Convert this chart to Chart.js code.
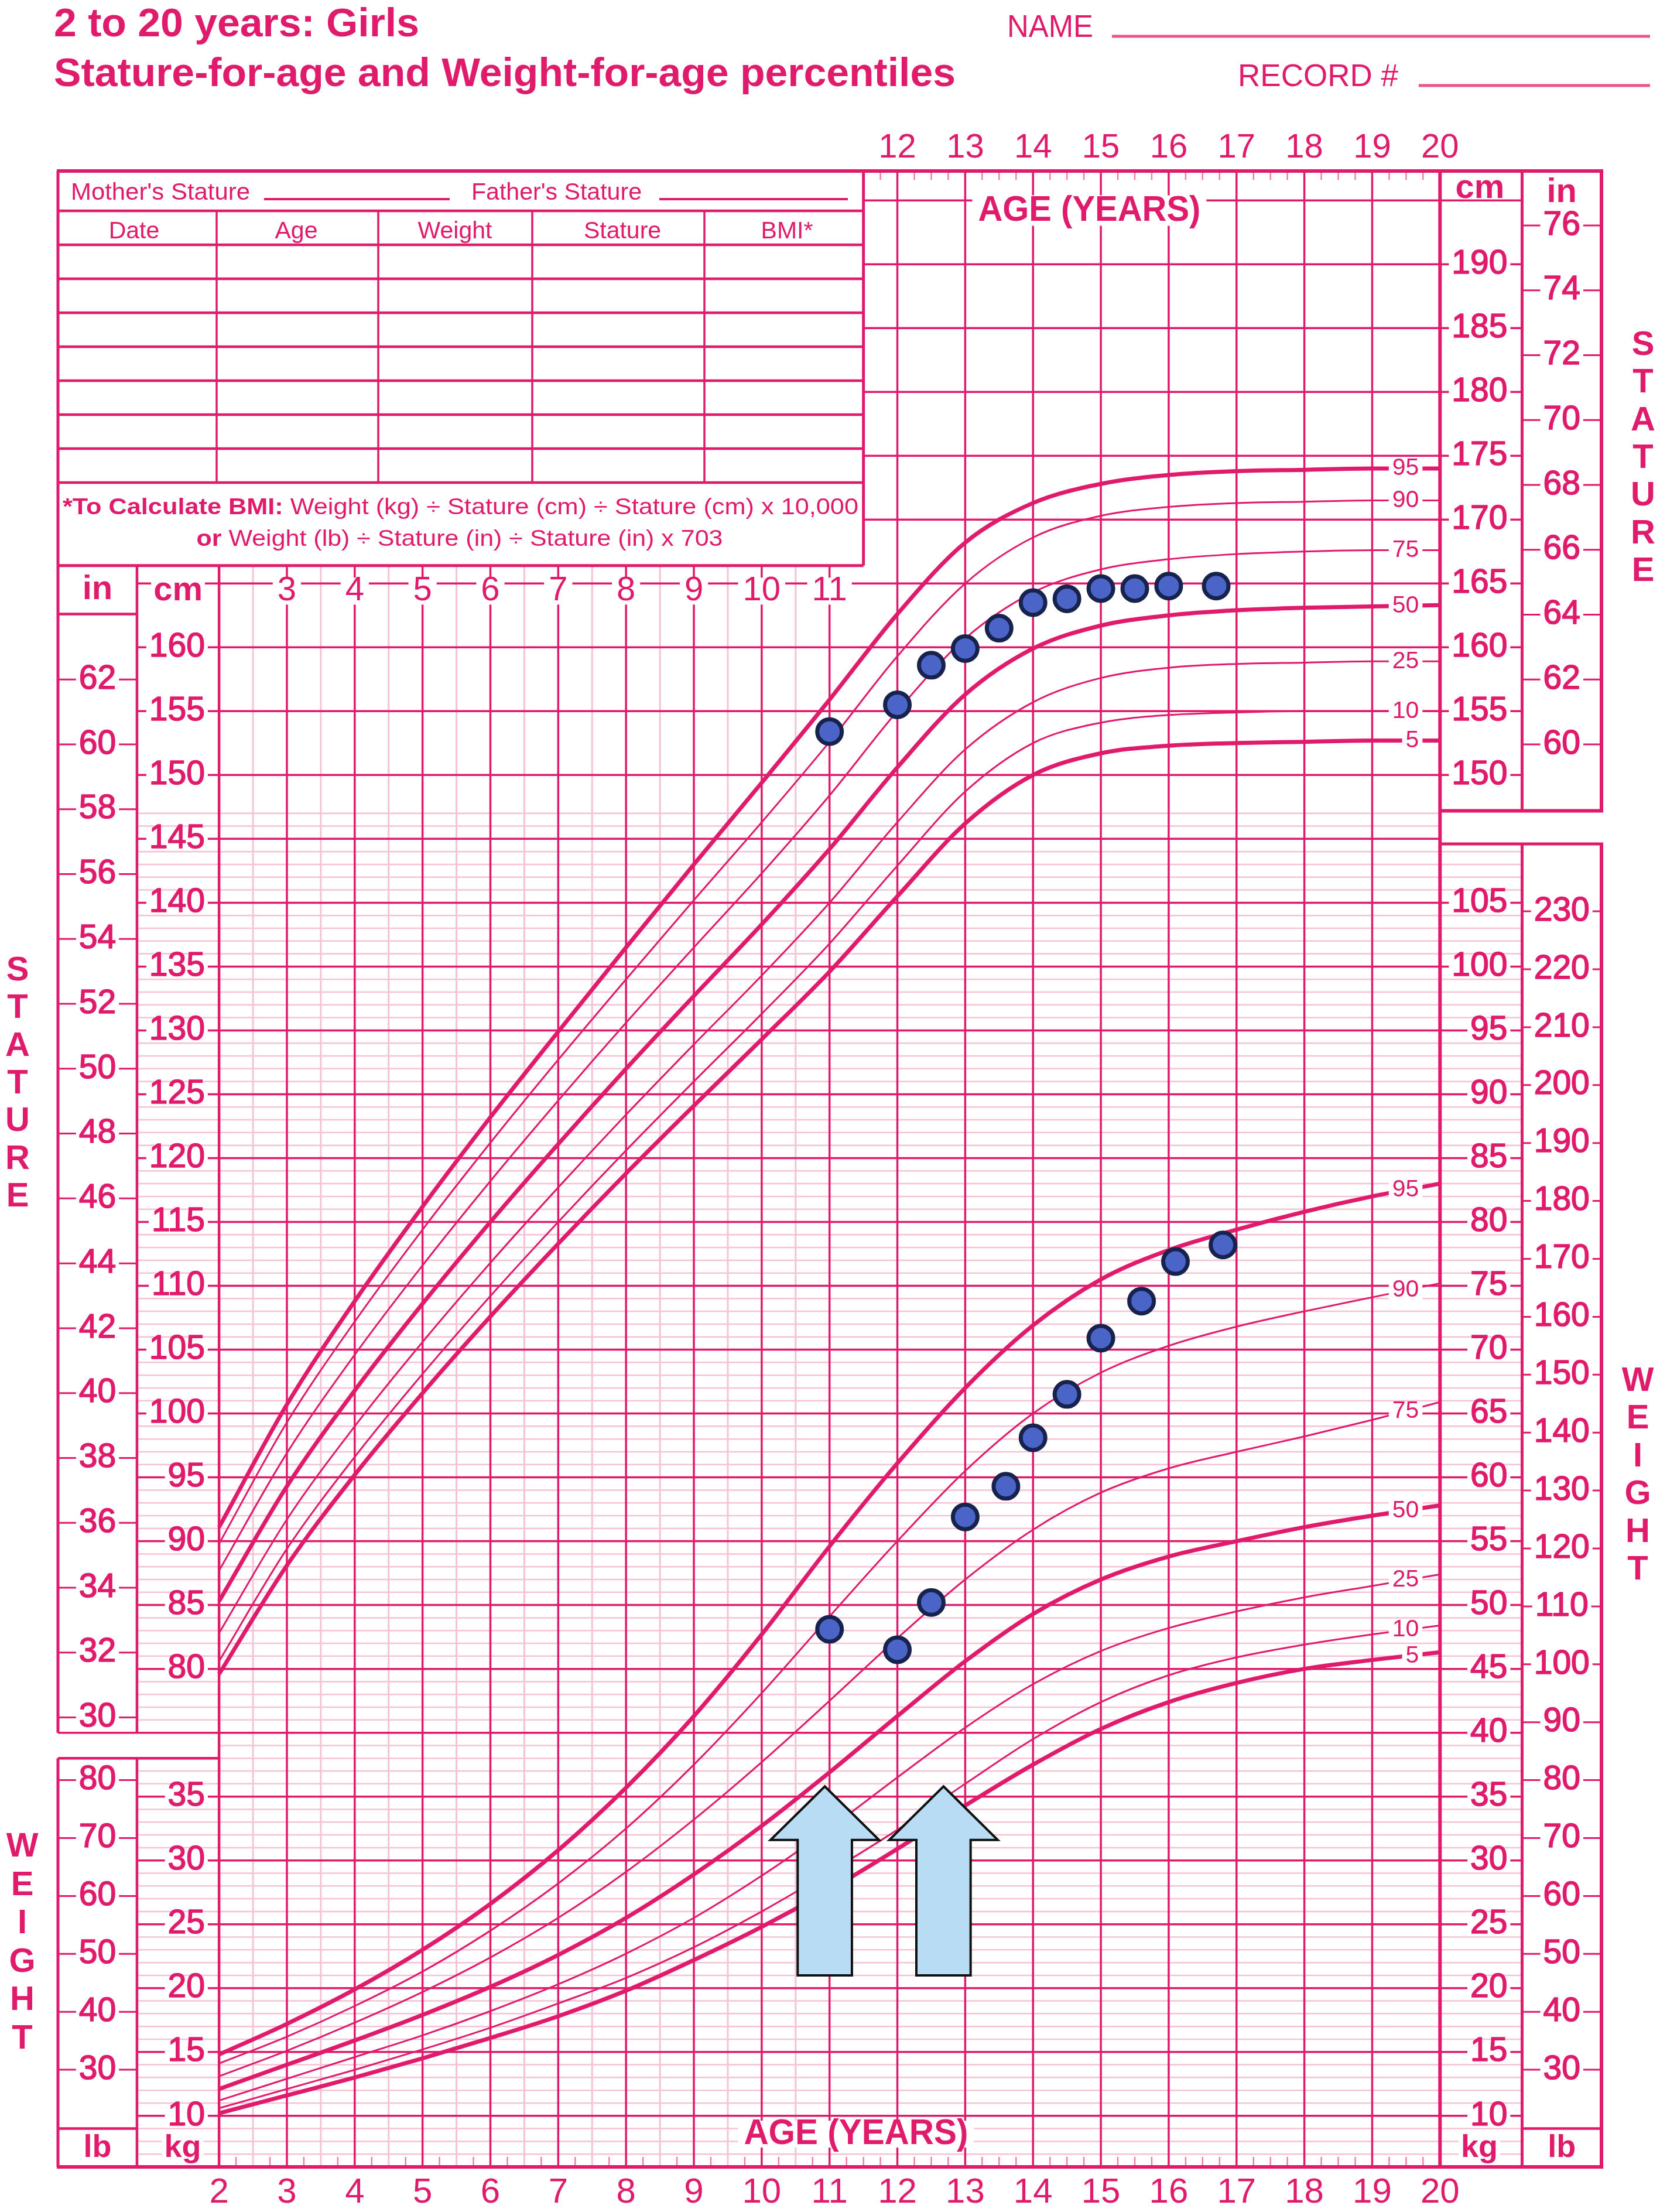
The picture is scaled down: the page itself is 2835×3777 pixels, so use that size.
<!DOCTYPE html>
<html>
<head>
<meta charset="utf-8">
<title>2 to 20 years: Girls - Stature-for-age and Weight-for-age percentiles</title>
<script src="https://cdn.jsdelivr.net/npm/chart.js@4.4.1/dist/chart.umd.min.js"></script>
<style>
    html, body { margin: 0; padding: 0; background: #ffffff; }
    canvas { display: block; }
</style>
</head>
<body>
<canvas id="growth-chart" width="2835" height="3777" style="width:2835px;height:3777px"></canvas>
<script>
// ages of the percentile curves (years)
const ages = [2, 3, 4, 5, 6, 7, 8, 9, 10, 11, 12, 13, 14, 15, 16, 17, 18, 19, 20];
const percentiles = [5, 10, 25, 50, 75, 90, 95];

// stature-for-age percentiles (cm)
const stature5 = [79.6, 88.1, 95.2, 101.6, 107.6, 113.3, 118.8, 124.1, 129.3, 134.6, 140.5, 146.2, 150.0, 151.7, 152.3, 152.5, 152.6, 152.7, 152.7];
const stature10 = [80.6, 89.4, 96.6, 103.1, 109.2, 115.0, 120.6, 126.0, 131.3, 136.8, 142.9, 148.7, 152.5, 154.1, 154.7, 154.9, 155.0, 155.0, 155.0];
const stature25 = [82.8, 91.7, 99.0, 105.6, 111.8, 117.7, 123.4, 128.9, 134.3, 140.0, 146.3, 152.0, 155.7, 157.6, 158.4, 158.7, 158.8, 158.9, 158.9];
const stature50 = [85.3, 94.3, 101.8, 108.6, 115.0, 121.1, 127.0, 132.7, 138.3, 144.2, 150.6, 156.3, 159.9, 161.7, 162.5, 162.9, 163.1, 163.2, 163.3];
const stature75 = [87.7, 96.9, 104.6, 111.6, 118.2, 124.5, 130.6, 136.5, 142.3, 148.4, 155.0, 160.7, 164.3, 166.1, 166.9, 167.3, 167.5, 167.6, 167.6];
const stature90 = [89.8, 99.3, 107.2, 114.4, 121.2, 127.7, 134.0, 140.2, 146.3, 152.6, 159.3, 165.0, 168.6, 170.3, 171.0, 171.3, 171.4, 171.5, 171.5];
const stature95 = [91.1, 100.7, 108.8, 116.2, 123.2, 129.9, 136.5, 143.0, 149.4, 155.9, 162.6, 168.2, 171.3, 172.8, 173.5, 173.8, 173.9, 174.0, 174.0];

// weight-for-age percentiles (kg)
const weight5 = [10.2, 11.6, 13.0, 14.5, 16.1, 17.8, 19.8, 22.2, 24.8, 27.7, 30.9, 34.3, 37.5, 40.3, 42.4, 43.9, 45.0, 45.7, 46.3];
const weight10 = [10.6, 12.1, 13.6, 15.2, 16.9, 18.8, 20.8, 23.2, 26.0, 29.1, 32.4, 36.0, 39.5, 42.4, 44.5, 45.9, 46.9, 47.7, 48.4];
const weight25 = [11.2, 12.9, 14.6, 16.3, 18.2, 20.3, 22.7, 25.5, 28.8, 32.5, 36.5, 40.4, 43.8, 46.4, 48.2, 49.5, 50.6, 51.5, 52.4];
const weight50 = [12.1, 14.0, 15.9, 17.9, 20.1, 22.6, 25.5, 28.9, 32.7, 36.9, 41.3, 45.6, 49.3, 52.0, 53.8, 55.0, 56.1, 57.0, 57.8];
const weight75 = [13.1, 15.1, 17.3, 19.7, 22.4, 25.5, 29.1, 33.2, 37.7, 42.5, 47.4, 52.0, 55.9, 58.8, 60.7, 62.0, 63.2, 64.5, 65.9];
const weight90 = [14.1, 16.2, 18.6, 21.3, 24.5, 28.2, 32.5, 37.5, 43.1, 49.1, 55.0, 60.5, 65.0, 68.2, 70.3, 71.8, 73.0, 74.1, 75.2];
const weight95 = [14.8, 17.2, 19.9, 23.0, 26.6, 30.8, 35.7, 41.3, 47.7, 54.6, 61.1, 67.0, 71.9, 75.5, 77.8, 79.4, 80.8, 82.0, 83.0];

// plotted measurements
const statureVisitAges = [11, 12, 12.5, 13, 13.5, 14, 14.5, 15, 15.5, 16, 16.7];
const statureVisitCm = [153.4, 155.5, 158.6, 159.9, 161.5, 163.5, 163.8, 164.6, 164.6, 164.8, 164.8];
const weightVisitAges = [11, 12, 12.5, 13, 13.6, 14, 14.5, 15, 15.6, 16.1, 16.8];
const weightVisitKg = [48.1, 46.5, 50.2, 56.9, 59.3, 63.1, 66.5, 70.9, 73.8, 76.9, 78.2];

// the two blue arrows (age of the tip, kg of tip / neck / foot)
const arrowAges = [10.93, 12.68];
const arrowTipKg = 35.8;
const arrowNeckKg = 31.6;
const arrowFootKg = 21.0;

// axis labels
const cmLabelsLeft = [80, 85, 90, 95, 100, 105, 110, 115, 120, 125, 130, 135, 140, 145, 150, 155, 160];
const inLabelsLeft = [30, 32, 34, 36, 38, 40, 42, 44, 46, 48, 50, 52, 54, 56, 58, 60, 62];
const kgLabelsLeft = [10, 15, 20, 25, 30, 35];
const lbLabelsLeft = [30, 40, 50, 60, 70, 80];
const cmLabelsRight = [150, 155, 160, 165, 170, 175, 180, 185, 190];
const inLabelsRight = [60, 62, 64, 66, 68, 70, 72, 74, 76];
const kgLabelsRight = [10, 15, 20, 25, 30, 35, 40, 45, 50, 55, 60, 65, 70, 75, 80, 85, 90, 95, 100, 105];
const lbLabelsRight = [30, 40, 50, 60, 70, 80, 90, 100, 110, 120, 130, 140, 150, 160, 170, 180, 190, 200, 210, 220, 230];
const topAgeLabels = [12, 13, 14, 15, 16, 17, 18, 19, 20];
const rowAgeLabels = [3, 4, 5, 6, 7, 8, 9, 10, 11];
const bottomAgeLabels = [2, 3, 4, 5, 6, 7, 8, 9, 10, 11, 12, 13, 14, 15, 16, 17, 18, 19, 20];

const PINK = "#e01b6c";
const MINOR = "#f6c2d5";
const FONT = '"Liberation Sans", Arial, Helvetica, sans-serif';

function seg(ctx, x1, y1, x2, y2, width, color) {
    ctx.beginPath();
    ctx.moveTo(x1, y1);
    ctx.lineTo(x2, y2);
    ctx.lineWidth = width;
    ctx.strokeStyle = color || PINK;
    ctx.stroke();
}

// text with optional white box behind it; "heavy" thickens the glyphs a little
function text(ctx, str, x, y, o) {
    str = String(str);
    ctx.font = (o.bold ? "bold " : "") + o.size + "px " + FONT;
    ctx.textAlign = o.align || "center";
    ctx.textBaseline = o.base || "middle";
    let w = ctx.measureText(str).width;
    if (o.maxW && w > o.maxW) w = o.maxW;
    if (o.bg) {
        let left = x - w / 2;
        if (ctx.textAlign === "right") left = x - w;
        if (ctx.textAlign === "left") left = x;
        const h = o.bgH || o.size * 0.72;
        const pad = o.pad === undefined ? 6 : o.pad;
        ctx.fillStyle = "#ffffff";
        ctx.fillRect(left - pad, y - h / 2, w + 2 * pad, h);
    }
    ctx.fillStyle = o.color || PINK;
    if (o.maxW) ctx.fillText(str, x, y, o.maxW);
    else ctx.fillText(str, x, y);
    if (o.heavy) {
        ctx.lineWidth = o.heavy;
        ctx.lineJoin = "round";
        ctx.strokeStyle = o.color || PINK;
        if (o.maxW) ctx.strokeText(str, x, y, o.maxW);
        else ctx.strokeText(str, x, y);
    }
}

// mixed bold / regular line fitted to a given width
function runs(ctx, parts, x, y, size, width, align) {
    let total = 0;
    parts.forEach((p) => {
        ctx.font = (p.bold ? "bold " : "") + size + "px " + FONT;
        p.w = ctx.measureText(p.t).width;
        total += p.w;
    });
    const k = width / total;
    const start = align === "center" ? x - width / 2 : x;
    ctx.save();
    ctx.translate(start, y);
    ctx.scale(k, 1);
    ctx.textAlign = "left";
    ctx.textBaseline = "alphabetic";
    ctx.fillStyle = PINK;
    let cx = 0;
    parts.forEach((p) => {
        ctx.font = (p.bold ? "bold " : "") + size + "px " + FONT;
        ctx.fillText(p.t, cx, 0);
        cx += p.w;
    });
    ctx.restore();
}

const gridPlugin = {
    id: "growthGrid",
    beforeDraw(chart) {
        const ctx = chart.ctx;
        ctx.save();
        ctx.fillStyle = "#ffffff";
        ctx.fillRect(0, 0, chart.width, chart.height);
        ctx.restore();
    },
    beforeDatasetsDraw(chart) {
        const { ctx, scales } = chart;
        const X = (a) => scales.x.getPixelForValue(a);
        const Y = (v) => scales.yCm.getPixelForValue(v);
        const YK = (v) => scales.yKg.getPixelForValue(v);
        const YI = (v) => scales.yIn.getPixelForValue(v);
        const YL = (v) => scales.yLb.getPixelForValue(v);

        const xL = X(-0.375), xLc = X(0.79), x2 = X(2), x20 = X(20);
        const xRc = X(21.21), xR = X(22.38), xT = X(11.5);
        const yTop = Y(197.3), yBot = Y(41), yTab = Y(166.4);

        ctx.save();
        ctx.lineCap = "butt";

        // light 1 cm / 1 kg lines
        for (let v = 42; v <= 147; v++) {
            if (v % 5 === 0) continue;
            const a = v > 73 && v < 75 ? x2 : xLc;
            const b = v <= 144 ? xRc : x20;
            seg(ctx, a, Y(v), b, Y(v), 2.5, MINOR);
        }
        // light half-year lines
        for (let a = 2.5; a < 11; a += 1) seg(ctx, X(a), yTab, X(a), yBot, 3, MINOR);
        // 3-month ticks on the top and bottom edges
        for (let q = 2.25; q < 20; q += 0.25) {
            if (q % 1 === 0) continue;
            if (!(q < 11 && q % 1 === 0.5)) seg(ctx, X(q), yBot, X(q), yBot - 17, 2.5, "#ee80a8");
            if (q > 11.5) seg(ctx, X(q), yTop, X(q), yTop + 15, 2.5, "#ee80a8");
        }
        // 5 cm / 5 kg lines
        for (let v = 45; v <= 195; v += 5) {
            let a = xLc, b = xRc;
            if (v > 166.4) a = xT;
            if (v === 75) a = xL;
            if (v === 145) b = x20;
            seg(ctx, a, Y(v), b, Y(v), 3.5);
        }
        // year lines
        for (let a = 2; a <= 20; a++) {
            seg(ctx, X(a), a >= 12 ? yTop : yTab, X(a), yBot, a === 20 ? 6 : a === 2 ? 4.5 : 3.5);
        }

        // frame and side boxes
        seg(ctx, xL - 2, yTop, xR + 3, yTop, 6);
        seg(ctx, xL - 2, yBot, xR + 3, yBot, 6);
        seg(ctx, xL, yTop, xL, Y(75), 5);
        seg(ctx, xL, Y(73), xL, yBot, 5);
        seg(ctx, xLc, yTab, xLc, Y(75), 4.5);
        seg(ctx, xLc, Y(73), xLc, yBot, 4.5);
        seg(ctx, xL, yTab, xT, yTab, 5);
        seg(ctx, xT, yTop, xT, yTab, 5);
        seg(ctx, xL, Y(162.6), xLc, Y(162.6), 4.5);
        seg(ctx, xL, Y(73), x2, Y(73), 4.5);
        seg(ctx, xL, YK(9), xLc, YK(9), 4.5);
        seg(ctx, xRc, YK(9), xR, YK(9), 4.5);
        seg(ctx, xRc, yTop, xRc, Y(147.2), 5);
        seg(ctx, xRc, Y(144.6), xRc, yBot, 5);
        seg(ctx, xR, yTop, xR, Y(147.2), 6);
        seg(ctx, xR, Y(144.6), xR, yBot, 6);
        seg(ctx, x20, Y(147.2), xR + 3, Y(147.2), 6);
        seg(ctx, x20, Y(144.6), xR + 3, Y(144.6), 5);

        // record table
        const rows = [360, 418, 476, 534, 592, 650, 708, 766, 824];
        rows.forEach((r) => seg(ctx, xL, r, xT, r, 4.5));
        [370, 646, 909, 1203].forEach((c) => seg(ctx, c, rows[0], c, rows[rows.length - 1], 3.5));
        runs(ctx, [{ t: "Mother's Stature" }], 121, 341, 40, 306, "left");
        seg(ctx, 451, 340, 768, 340, 4);
        runs(ctx, [{ t: "Father's Stature" }], 805, 341, 40, 291, "left");
        seg(ctx, 1126, 340, 1448, 340, 4);
        [["Date", 229], ["Age", 506], ["Weight", 777], ["Stature", 1063], ["BMI*", 1344]].forEach(([t, cx]) => {
            text(ctx, t, cx, 407, { size: 41, base: "alphabetic" });
        });
        runs(ctx, [{ t: "*To Calculate BMI: ", bold: true }, { t: "Weight (kg) \u00f7 Stature (cm) \u00f7 Stature (cm) x 10,000" }], 107, 878, 39, 1359, "left");
        runs(ctx, [{ t: "or ", bold: true }, { t: "Weight (lb) \u00f7 Stature (in) \u00f7 Stature (in) x 703" }], 785, 932, 39, 899, "center");

        // inch and pound ticks
        inLabelsLeft.forEach((v) => seg(ctx, xL, YI(v), xLc, YI(v), 3));
        inLabelsRight.forEach((v) => seg(ctx, xRc, YI(v), xR, YI(v), 3));
        lbLabelsLeft.forEach((v) => seg(ctx, xL, YL(v), xLc, YL(v), 3));
        lbLabelsRight.forEach((v) => seg(ctx, xRc, YL(v), xR, YL(v), 3));

        // scale numbers
        const num = { size: 57, bg: true, bgH: 40, pad: 5, heavy: 1.6 };
        cmLabelsLeft.forEach((v) => text(ctx, v, xLc + 116, Y(v), { ...num, align: "right" }));
        cmLabelsRight.forEach((v) => text(ctx, v, xRc - 25, Y(v), { ...num, align: "right" }));
        kgLabelsLeft.forEach((v) => text(ctx, v, xLc + 116, YK(v), { ...num, align: "right" }));
        kgLabelsRight.forEach((v) => text(ctx, v, xRc - 25, YK(v), { ...num, align: "right" }));
        inLabelsLeft.forEach((v) => text(ctx, v, (xL + xLc) / 2, YI(v), num));
        inLabelsRight.forEach((v) => text(ctx, v, (xRc + xR) / 2, YI(v), num));
        lbLabelsLeft.forEach((v) => text(ctx, v, (xL + xLc) / 2, YL(v), num));
        lbLabelsRight.forEach((v) => text(ctx, v, (xRc + xR) / 2, YL(v), num));

        // age labels
        rowAgeLabels.forEach((a) => text(ctx, a, X(a), Y(164.4), { size: 58, bg: true, bgH: 46, pad: 8 }));
        topAgeLabels.forEach((a) => text(ctx, a, X(a), 253, { size: 58 }));
        bottomAgeLabels.forEach((a) => text(ctx, a, X(a), 3744, { size: 60 }));
        text(ctx, "AGE (YEARS)", X(14.83), Y(194.2), { size: 62, bold: true, maxW: 380, bg: true, bgH: 52, pad: 10 });
        text(ctx, "AGE (YEARS)", X(11.39), 3644, { size: 62, bold: true, maxW: 383, bg: true, bgH: 46, pad: 10 });

        // unit headers
        text(ctx, "in", (xL + xLc) / 2, 1007, { size: 58, bold: true });
        text(ctx, "cm", (xLc + x2) / 2, Y(164.4), { size: 58, bold: true, bg: true, bgH: 46, pad: 4 });
        text(ctx, "cm", xRc - 72, 338, { size: 58, bold: true, base: "alphabetic" });
        text(ctx, "in", (xRc + xR) / 2, 345, { size: 58, bold: true, base: "alphabetic" });
        text(ctx, "lb", (xL + xLc) / 2, 3683, { size: 54, bold: true, base: "alphabetic" });
        text(ctx, "kg", (xLc + x2) / 2 + 8, 3668, { size: 54, bold: true, bg: true, bgH: 46, pad: 4 });
        text(ctx, "kg", xRc - 73, 3668, { size: 54, bold: true, bg: true, bgH: 46, pad: 4 });
        text(ctx, "lb", (xRc + xR) / 2, 3683, { size: 54, bold: true, base: "alphabetic" });

        // vertical side titles
        "STATURE".split("").forEach((ch, i) => {
            text(ctx, ch, 30, 1658 + i * 64.3, { size: 58, bold: true });
            text(ctx, ch, 2806, 590 + i * 64.3, { size: 58, bold: true });
        });
        "WEIGHT".split("").forEach((ch, i) => {
            text(ctx, ch, 38, 3154 + i * 65.5, { size: 58, bold: true });
            text(ctx, ch, 2797, 2359 + i * 64.4, { size: 58, bold: true });
        });

        // heading
        runs(ctx, [{ t: "2 to 20 years: Girls", bold: true }], 92, 62, 69, 624, "left");
        runs(ctx, [{ t: "Stature-for-age and Weight-for-age percentiles", bold: true }], 92, 147, 69, 1540, "left");
        text(ctx, "NAME", 1720, 63, { size: 53, align: "left", base: "alphabetic", maxW: 147 });
        seg(ctx, 1899, 62, 2818, 62, 5, "#e8558c");
        text(ctx, "RECORD #", 2114, 147, { size: 53, align: "left", base: "alphabetic", maxW: 274 });
        seg(ctx, 2423, 146, 2818, 146, 5, "#e8558c");

        ctx.restore();
    },
    afterDatasetsDraw(chart) {
        const { ctx, scales } = chart;
        const X = (a) => scales.x.getPixelForValue(a);
        const Y = (v) => scales.yCm.getPixelForValue(v);
        const YK = (v) => scales.yKg.getPixelForValue(v);
        ctx.save();

        // percentile names at the right end of each curve
        const n = ages.length;
        const lbl = { size: 41, align: "right", bg: true, bgH: 32, pad: 6 };
        [stature5, stature10, stature25, stature50, stature75, stature90, stature95].forEach((arr, i) => {
            text(ctx, percentiles[i], X(19.69), Y((arr[n - 2] + arr[n - 1]) / 2), lbl);
        });
        [weight5, weight10, weight25, weight50, weight75, weight90, weight95].forEach((arr, i) => {
            text(ctx, percentiles[i], X(19.69), YK((arr[n - 2] + arr[n - 1]) / 2), lbl);
        });

        // arrows
        arrowAges.forEach((a) => {
            const cx = X(a);
            const hw = X(a + 0.8) - cx;
            const sw = X(a + 0.4) - cx;
            const yt = YK(arrowTipKg), yn = YK(arrowNeckKg), yf = YK(arrowFootKg);
            ctx.beginPath();
            ctx.moveTo(cx, yt);
            ctx.lineTo(cx + hw, yn);
            ctx.lineTo(cx + sw, yn);
            ctx.lineTo(cx + sw, yf);
            ctx.lineTo(cx - sw, yf);
            ctx.lineTo(cx - sw, yn);
            ctx.lineTo(cx - hw, yn);
            ctx.closePath();
            ctx.fillStyle = "#b9dcf5";
            ctx.fill();
            ctx.lineWidth = 4;
            ctx.lineJoin = "miter";
            ctx.strokeStyle = "#111111";
            ctx.stroke();
        });
        ctx.restore();
    },
};

function curve(name, values, axis, pct) {
    const heavy = pct === 5 || pct === 50 || pct === 95;
    return {
        label: name,
        type: "line",
        yAxisID: axis,
        data: ages.map((a, i) => ({ x: a, y: values[i] })),
        borderColor: PINK,
        borderWidth: heavy ? 7 : 3,
        pointRadius: 0,
        fill: false,
        cubicInterpolationMode: "monotone",
        order: 1,
    };
}

function visits(name, xs, ys, axis) {
    return {
        label: name,
        type: "line",
        showLine: false,
        yAxisID: axis,
        data: xs.map((a, i) => ({ x: a, y: ys[i] })),
        pointRadius: 21,
        pointBorderWidth: 7,
        pointBackgroundColor: "#4a64c8",
        pointBorderColor: "#17224d",
        order: 0,
    };
}

const statureCurves = [stature5, stature10, stature25, stature50, stature75, stature90, stature95];
const weightCurves = [weight5, weight10, weight25, weight50, weight75, weight90, weight95];

const datasets = [
    visits("Stature", statureVisitAges, statureVisitCm, "yCm"),
    visits("Weight", weightVisitAges, weightVisitKg, "yKg"),
];
statureCurves.forEach((arr, i) => datasets.push(curve("Stature P" + percentiles[i], arr, "yCm", percentiles[i])));
weightCurves.forEach((arr, i) => datasets.push(curve("Weight P" + percentiles[i], arr, "yKg", percentiles[i])));

const ctx = document.getElementById("growth-chart").getContext("2d");
window.growthChart = new Chart(ctx, {
    type: "line",
    data: { datasets: datasets },
    options: {
        responsive: false,
        animation: false,
        devicePixelRatio: 1,
        events: [],
        layout: { padding: { left: 99, right: 100, top: 292, bottom: 77 } },
        plugins: {
            legend: { display: false },
            tooltip: { enabled: false },
            title: { display: false },
        },
        scales: {
            x: { type: "linear", min: -0.375, max: 22.38, bounds: "data", display: false },
            yCm: { type: "linear", min: 41, max: 197.3, bounds: "data", display: false },
            yKg: { type: "linear", min: 6, max: 162.3, bounds: "data", display: false },
            yIn: { type: "linear", min: 41 / 2.54, max: 197.3 / 2.54, bounds: "data", display: false },
            yLb: { type: "linear", min: 6 / 0.45359237, max: 162.3 / 0.45359237, bounds: "data", display: false },
        },
    },
    plugins: [gridPlugin],
});
</script>
</body>
</html>
